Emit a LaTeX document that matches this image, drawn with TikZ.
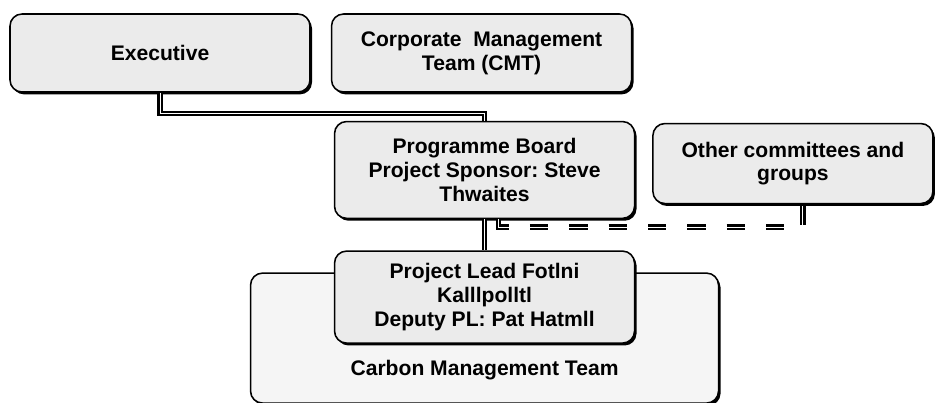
\documentclass[tikz,border=0pt]{standalone}
\usepackage{fontspec}
\setmainfont{Liberation Sans}
\usepackage{tikz}
\usetikzlibrary{positioning, shadows, backgrounds}
\frenchspacing

\begin{document}
\begin{tikzpicture}[
    node distance=0.5cm,
    box/.style={rectangle, rounded corners=0.3cm, draw=black, fill=black!8, line width=1.1pt, minimum width=7.5cm, minimum height=1.95cm, align=center, font=\fontsize{15}{17}\selectfont\bfseries, drop shadow={shadow xshift=0.05cm, shadow yshift=-0.06cm, fill=black, opacity=1}},
    teambox/.style={box, fill=black!4, minimum width=11.7cm, minimum height=3.25cm, text height=1.86cm, text depth=0pt},
    link/.style={draw=black, line width=1.6pt, double=white, double distance=0.6pt},
    dashlink/.style={link, dash pattern=on 13pt off 15pt}
]
\useasboundingbox (-4.0,1.325) rectangle (19.525,-8.75);

% Top row
\node[box] (exec) {Executive};
\node[box, right=0.5cm of exec] (cmt) {Corporate~ Management\\Team (CMT)};

% Middle row
\node[box, below right=0.7cm and 0.075cm of cmt.south west, minimum height=2.42cm] (board) {Programme Board\\Project Sponsor: Steve\\Thwaites};
\node[box, below right=0.05cm and 0.42cm of board.north east, minimum width=7cm, minimum height=2cm] (other) {Other committees and\\groups};

% Bottom - project lead in front of the team
\node[box, below=0.78cm of board, minimum height=2.3cm] (lead) {Project Lead Fotlni\\Kalllpolltl\\Deputy PL: Pat Hatmll};
\begin{scope}[on background layer]
\node[teambox, below=0.55cm of lead.north] (team) {Carbon Management Team};
\end{scope}

% Connectors
\draw[link] (exec.south) -- ++(0,-0.52) -| (board.north);
\draw[link] (board.south) -- (lead.north);
\draw[dashlink] ([xshift=0.35cm]board.south) -- ++(0,-0.2) -| ([xshift=0.25cm]other.south);

\end{tikzpicture}
\end{document}
